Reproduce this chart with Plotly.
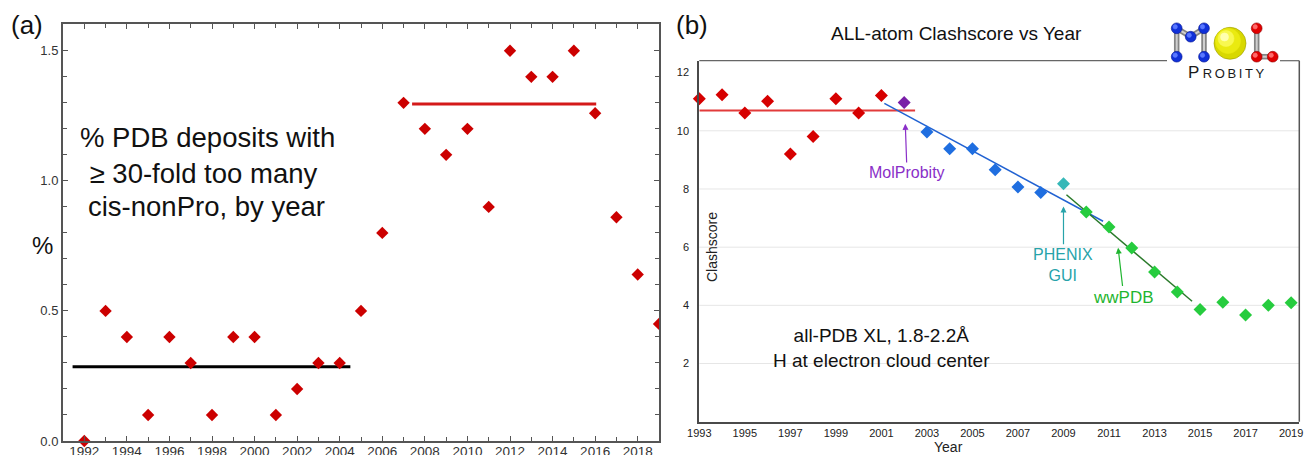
import plotly.graph_objects as go

W, H = 1304, 455

# ---------------- data: panel (a) ----------------
years_a = [1992, 1993, 1994, 1995, 1996, 1997, 1998, 1999, 2000, 2001, 2002, 2003, 2004,
           2005, 2006, 2007, 2008, 2009, 2010, 2011, 2012, 2013, 2014, 2015, 2016, 2017,
           2018, 2019]
pct_a = [0.0, 0.5, 0.4, 0.1, 0.4, 0.3, 0.1, 0.4, 0.4, 0.1, 0.2, 0.3, 0.3,
         0.5, 0.80, 1.30, 1.20, 1.10, 1.20, 0.90, 1.50, 1.40, 1.40, 1.50, 1.26, 0.86,
         0.64, 0.45]
early_mean_x = [1991.45, 2004.5]
early_mean_y = [0.285, 0.285]
late_mean_x = [2007.4, 2016.05]
late_mean_y = [1.295, 1.295]

# ---------------- data: panel (b) ----------------
years_pre = [1993, 1994, 1995, 1996, 1997, 1998, 1999, 2000, 2001]
clash_pre = [11.10, 11.24, 10.61, 11.02, 9.20, 9.80, 11.10, 10.61, 11.21]
years_molprobity = [2002]
clash_molprobity = [10.97]
years_mid = [2003, 2004, 2005, 2006, 2007, 2008]
clash_mid = [9.96, 9.38, 9.38, 8.66, 8.07, 7.88]
years_phenix = [2009]
clash_phenix = [8.18]
years_wwpdb = [2010, 2011, 2012, 2013, 2014, 2015, 2016, 2017, 2018, 2019]
clash_wwpdb = [7.21, 6.69, 5.97, 5.15, 4.46, 3.86, 4.11, 3.67, 4.00, 4.09]
pre_fit_x = [1993, 2002.48]
pre_fit_y = [10.70, 10.70]
mid_fit_x = [2001.13, 2010.74]
mid_fit_y = [10.94, 6.89]
ww_fit_x = [2009.13, 2014.65]
ww_fit_y = [7.80, 4.14]
xticks_b = list(range(1993, 2020, 2))
yticks_b = [2, 4, 6, 8, 10, 12]
grid_b = [2, 4, 6, 8, 10]


def px(x):
    return x / W


def py(y):
    return 1 - y / H


fig = go.Figure()

# ---- panel (a) traces ----
fig.add_trace(go.Scatter(x=early_mean_x, y=early_mean_y, mode="lines",
                         line=dict(color="#000000", width=3), xaxis="x", yaxis="y",
                         hoverinfo="skip"))
fig.add_trace(go.Scatter(x=late_mean_x, y=late_mean_y, mode="lines",
                         line=dict(color="#d41a1a", width=3), xaxis="x", yaxis="y",
                         hoverinfo="skip"))
fig.add_trace(go.Scatter(x=years_a[:-1], y=pct_a[:-1], mode="markers",
                         marker=dict(symbol="diamond", size=9.5, color="#cc0000"),
                         xaxis="x", yaxis="y", cliponaxis=False))
fig.add_trace(go.Scatter(x=years_a[-1:], y=pct_a[-1:], mode="markers",
                         marker=dict(symbol="diamond", size=9.5, color="#cc0000"),
                         xaxis="x", yaxis="y", cliponaxis=True))

# ---- panel (b) traces ----
fig.add_trace(go.Scatter(x=pre_fit_x, y=pre_fit_y, mode="lines",
                         line=dict(color="#e23b3b", width=2), xaxis="x2", yaxis="y2"))
fig.add_trace(go.Scatter(x=mid_fit_x, y=mid_fit_y, mode="lines",
                         line=dict(color="#2162d2", width=1.5), xaxis="x2", yaxis="y2"))
fig.add_trace(go.Scatter(x=ww_fit_x, y=ww_fit_y, mode="lines",
                         line=dict(color="#2a7a2a", width=1.5), xaxis="x2", yaxis="y2"))
mk = dict(symbol="diamond", size=10)
fig.add_trace(go.Scatter(x=years_pre, y=clash_pre, mode="markers",
                         marker=dict(mk, color="#d60000"), xaxis="x2", yaxis="y2",
                         cliponaxis=False))
fig.add_trace(go.Scatter(x=years_molprobity, y=clash_molprobity, mode="markers",
                         marker=dict(mk, color="#7a1fa8"), xaxis="x2", yaxis="y2",
                         cliponaxis=False))
fig.add_trace(go.Scatter(x=years_mid, y=clash_mid, mode="markers",
                         marker=dict(mk, color="#1f6ee0"), xaxis="x2", yaxis="y2",
                         cliponaxis=False))
fig.add_trace(go.Scatter(x=years_phenix, y=clash_phenix, mode="markers",
                         marker=dict(mk, color="#36b8b8"), xaxis="x2", yaxis="y2",
                         cliponaxis=False))
fig.add_trace(go.Scatter(x=years_wwpdb, y=clash_wwpdb, mode="markers",
                         marker=dict(mk, color="#26cc3e"), xaxis="x2", yaxis="y2",
                         cliponaxis=True))

axis_a = dict(showline=True, linecolor="#555555", linewidth=2, mirror="ticks",
              ticks="inside", ticklen=5, tickwidth=1.3, tickcolor="#555555",
              showgrid=False, zeroline=False, automargin=False,
              tickfont=dict(family="Arial", size=13, color="#333333"))

shapes = []
for g in grid_b:
    shapes.append(dict(type="line", xref="x2 domain", yref="y2", x0=0, x1=1, y0=g, y1=g,
                       line=dict(color="#e6e6e6", width=1), layer="below"))
# top/right border of panel b (top broken by logo)
for x0, x1 in [(0, (1167 - 699.3) / 600), ((1280 - 699.3) / 600, 1)]:
    shapes.append(dict(type="line", xref="x2 domain", yref="y2 domain", x0=x0, x1=x1,
                       y0=1, y1=1, line=dict(color="#666666", width=1.2)))
shapes.append(dict(type="line", xref="x2 domain", yref="y2 domain", x0=1, x1=1,
                   y0=0, y1=1, line=dict(color="#555555", width=1.5)))

# ---- MolProbity logo (decoration) ----
def circ(cx, cy, r, fill, edge=None):
    return dict(type="circle", xref="paper", yref="paper",
                x0=px(cx - r), x1=px(cx + r), y0=py(cy + r), y1=py(cy - r),
                fillcolor=fill, line=dict(color=edge or fill, width=0.6), layer="above")


def bar(x0, y0, x1, y1):
    return [dict(type="line", xref="paper", yref="paper", x0=px(x0), x1=px(x1),
                 y0=py(y0), y1=py(y1), line=dict(color="#858585", width=5.5), layer="above"),
            dict(type="line", xref="paper", yref="paper", x0=px(x0), x1=px(x1),
                 y0=py(y0), y1=py(y1), line=dict(color="#cfcfcf", width=2), layer="above")]

for seg in [(1176.7, 28.3, 1176.7, 56.7), (1176.7, 28.3, 1190.7, 36.7),
            (1190.7, 36.7, 1204, 28.3), (1204, 28.3, 1204, 56.7),
            (1256.7, 28.3, 1256.7, 56.7), (1256.7, 56.7, 1272.7, 56.7)]:
    shapes.extend(bar(*seg))
for cx, cy in [(1176.7, 28.3), (1190.7, 36.7), (1204, 28.3), (1176.7, 56.7), (1204, 56.7)]:
    shapes.append(circ(cx, cy, 5.4, "#1030d8", "#001090"))
    shapes.append(circ(cx - 1.5, cy - 1.5, 2.2, "#5a78ff"))
for cx, cy in [(1256.7, 28.3), (1256.7, 56.7), (1272.7, 56.7)]:
    shapes.append(circ(cx, cy, 5.4, "#e00000", "#900000"))
    shapes.append(circ(cx - 1.5, cy - 1.5, 2.2, "#ff6a6a"))
shapes.append(circ(1230, 43.3, 16, "#d8d800", "#9a9a00"))
shapes.append(circ(1228, 41, 12.5, "#eaea10"))
shapes.append(circ(1226, 38.5, 8, "#f8f850"))
shapes.append(circ(1224.5, 37, 4, "#ffffb0"))


def ann(x, y, text, size, color="#111111", **kw):
    d = dict(x=px(x), y=py(y), xref="paper", yref="paper", text=text, showarrow=False,
             xanchor="center", yanchor="middle",
             font=dict(family="Arial", size=size, color=color))
    d.update(kw)
    return d


annotations = [
    ann(27, 25, "(a)", 26),
    ann(692, 25, "(b)", 26),
    ann(77.7, 137, "% PDB deposits with", 27.5, xanchor="left"),
    ann(80, 173, " \u2265 30-fold too many", 27.5, xanchor="left"),
    ann(86, 207, "cis-nonPro, by year", 27.5, xanchor="left"),
    ann(42.5, 245, "%", 24),
    ann(956.7, 33.7, "ALL-atom Clashscore vs Year", 19),
    ann(881, 348, "all-PDB XL, 1.8-2.2\u00c5<br>H at electron cloud center", 19),
    ann(712, 247, "Clashscore", 14, color="#222222", textangle=-90),
    ann(948, 447, "Year", 14, color="#222222"),
    ann(1225.8, 72, "P\u2009<span style='font-size:13px'>R\u2009O\u2009B\u2009I\u2009T\u2009Y</span>",
        17, color="#1a1a1a"),
    dict(x=2002.05, y=10.24, xref="x2", yref="y2", ax=1.7, ay=48.7, text="MolProbity",
         showarrow=True, arrowhead=2, arrowsize=1, arrowwidth=1.2, arrowcolor="#8a2fc8",
         font=dict(family="Arial", size=16, color="#8a2fc8")),
    dict(x=2009.0, y=7.40, xref="x2", yref="y2", ax=0, ay=58.3, text="PHENIX<br>GUI",
         showarrow=True, arrowhead=2, arrowsize=1, arrowwidth=1.2, arrowcolor="#27a3aa",
         font=dict(family="Arial", size=16, color="#27a3aa")),
    dict(x=2011.4, y=5.98, xref="x2", yref="y2", ax=5.7, ay=49.3, text="wwPDB",
         showarrow=True, arrowhead=2, arrowsize=1, arrowwidth=1.2, arrowcolor="#1fb52f",
         font=dict(family="Arial", size=17, color="#1fb52f")),
]

fig.update_layout(
    width=W, height=H, template="none", showlegend=False,
    margin=dict(l=0, r=0, t=0, b=0, pad=0),
    paper_bgcolor="white", plot_bgcolor="rgba(0,0,0,0)",
    font=dict(family="Arial", color="#222222"),
    xaxis=dict(axis_a, domain=[px(63), px(659)], range=[1991, 2019], anchor="y",
               dtick=2, tick0=1992, ticklabelstandoff=-3,
               minor=dict(dtick=1, ticks="inside", ticklen=4, tickwidth=1.3,
                          tickcolor="#555555", showgrid=False),
               tickfont=dict(family="Arial", size=13.5, color="#333333")),
    yaxis=dict(axis_a, domain=[py(441), py(24)], range=[0, 1.603], anchor="x",
               dtick=0.5, tick0=0, tickformat=".1f",
               minor=dict(dtick=0.1, ticks="inside", ticklen=4, tickwidth=1.3,
                          tickcolor="#555555", showgrid=False)),
    xaxis2=dict(domain=[px(699.3), px(1299.3)], range=[1993, 2019.36], anchor="y2",
                showline=True, linecolor="#4a4a4a", linewidth=2, mirror=False,
                ticks="", tickvals=xticks_b, showgrid=False, zeroline=False,
                automargin=False,
                tickfont=dict(family="Arial", size=11, color="#222222")),
    yaxis2=dict(domain=[py(421.7), py(60.7)], range=[0, 12.41], anchor="x2",
                showline=True, linecolor="#4a4a4a", linewidth=2, mirror=False,
                ticks="outside", ticklen=6, tickcolor="rgba(0,0,0,0)",
                tickvals=yticks_b, showgrid=False, zeroline=False, automargin=False,
                tickfont=dict(family="Arial", size=11, color="#222222")),
    shapes=shapes,
    annotations=annotations,
)

fig.write_html("out.html", config={"displayModeBar": False},
               post_script="document.body.style.margin='0';")
